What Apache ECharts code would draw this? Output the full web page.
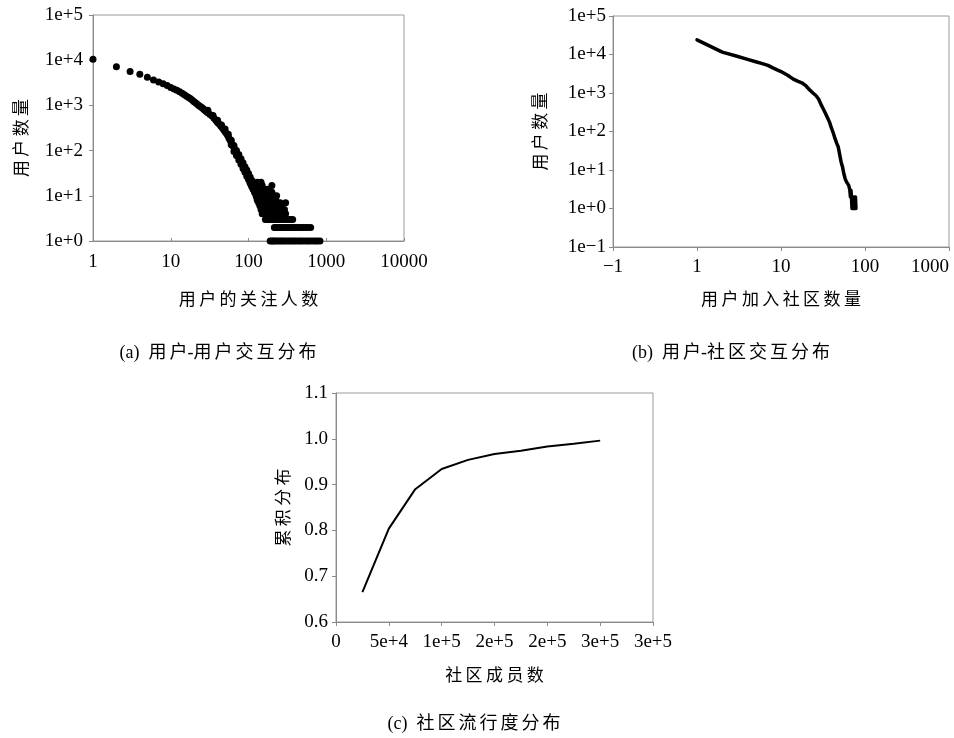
<!DOCTYPE html>
<html>
<head>
<meta charset="utf-8">
<script src="https://cdn.jsdelivr.net/npm/echarts@6/dist/echarts.min.js"></script>
<style>
  html, body { margin: 0; padding: 0; background: #fff; }
  #chart { width: 954px; height: 738px; }
</style>
</head>
<body>
<div id="chart"></div>
<script>
// (a) user-user: number of users by followee count (log-log scatter)
const followX = [1,2,3,4,5,6,7,8,9,10,11,12,13,14,15,16,17,18,19,20,21,22,23,24,25,26,27,28,29,30,
  32,34,36,38,40,42,44,46,48,50,52,54,56,58,60,62,64,66,68,70,75,80,85,90,95,100,105,110,115,120,125,130,135,140,150];
const followY = [10500,7200,5600,4900,4200,3650,3300,3000,2750,2500,2320,2150,2000,1850,1720,1600,1500,1400,1300,1200,1130,1060,1000,950,900,850,800,760,720,690,
  630,580,520,470,420,390,350,320,290,260,240,215,190,170,150,135,122,110,100,90,72,58,47,38,32,27,23,20,17,15,13,12,11,10,8];
// scattered points around the band
const spreadX = [30,35,40,45,50,55,60,60,65,65,70,70,75,75,80,80,85,85,90,90,95,95,100,100,105,105,110,110,115,115,120,120,125,125,130,130,135,135,140,140,145,145,150,150,155,160,160];
const spreadY = [780,600,470,370,300,230,170,135,130,95,100,78,82,62,66,50,54,40,44,33,37,27,31,23,26,19,22,16,19,14,17,12,15,11,13,9,12,8,11,7,9,6,10,6,5,6,8];
// tail: user counts and the followee counts at which they occur
const tailCounts = [20,17,14,12,10,9,8,7,6,5,4,3,2,1];
const tailFollow = [
  [105,115,130,145],
  [110,120,135,150,200],
  [115,125,140,155,175],
  [120,130,145,160,180,200],
  [125,135,150,165,185,210,230],
  [128,140,155,175,195,215],
  [130,145,160,180,200,225],
  [135,150,165,185,205,230,255,300],
  [140,155,170,190,210,235,260],
  [145,160,175,195,215,240,265,290],
  [150,165,180,200,220,245,270,300],
  [165,175,185,195,205,215,230,245,260,280,300,320,345,370],
  [215,225,235,250,265,280,300,320,340,360,385,410,440,470,500,540,580,630],
  [190,200,210,220,235,250,265,280,300,320,340,360,385,410,440,470,500,540,580,620,670,720,770,830]
];

// (b) user-community: number of users by communities joined
const joinX = [1,2,3,4,5,6,7,8,9,10,12,14,16,18,20,22,24,26,28,30,32,34,36,38,40,42,44,46,48,50,52,54,56,58,60,62,64,66,
  67,68,69,70,71,72,73,74,75,76,77,78];
const joinY = [24000,11500,9000,7500,6500,5800,5200,4500,4000,3600,2900,2300,2000,1800,1500,1200,1000,860,700,500,380,290,220,170,120,90,65,50,40,25,16,12,8,6,5,4.5,4,3,
  2,3,2,1,2,1,2,1,2,1,2,1];

// (c) community popularity: cumulative distribution by member count
const sizeX = [25000,50000,75000,100000,125000,150000,175000,200000,225000,250000];
const cdfY = [0.665,0.804,0.890,0.934,0.954,0.967,0.974,0.983,0.989,0.996];

// text
const yNameUsers = '用户数量';
const xNameA = '用户的关注人数';
const xNameB = '用户加入社区数量';
const xNameC = '社区成员数';
const yNameC = '累积分布';
const captions = [
  ['(a)', '用户-用户交互分布'],
  ['(b)', '用户-社区交互分布'],
  ['(c)', '社区流行度分布']
];

const FONT = '"Liberation Serif", "Times New Roman", "Noto Sans CJK SC", serif';
// widen CJK runs the way the typeset figure does
const spaced = (s, gap) => s.split('').join(gap);
const caption = ([tag, body]) => tag + '\u2002' +
  body.split('-').map(part => spaced(part, '\u2006')).join('-');

const scatterA = [];
followX.forEach((x, i) => scatterA.push([x, followY[i]]));
spreadX.forEach((x, i) => scatterA.push([x, spreadY[i]]));
tailCounts.forEach((c, i) => tailFollow[i].forEach(x => scatterA.push([x, c])));

const expOf = v => Math.round(Math.log10(v));
const sciLabel = v => { const e = expOf(v); return e < 0 ? '1e\u2212' + (-e) : '1e+' + e; };
const plainLog = v => { const e = expOf(v); return e < 0 ? '\u2212' + (-e) : String(Math.round(Math.pow(10, e))); };
const excelSci = v => {
  if (v === 0) return '0';
  let e = Math.floor(Math.log10(v) + 1e-9);
  let m = Math.round(v / Math.pow(10, e));
  if (m === 10) { m = 1; e += 1; }
  return m + 'e+' + e;
};

const axisLine = { lineStyle: { color: '#8a8a8a', width: 1 } };
const tickOut = { length: 4, lineStyle: { color: '#8a8a8a' } };
const labelStyle = { color: '#000', fontFamily: FONT, fontSize: 19 };
const nameStyle = { color: '#000', fontFamily: FONT, fontSize: 17 };
const gridBase = { show: true, borderColor: '#9a9a9a', borderWidth: 1, containLabel: false, outerBoundsMode: 'none' };

const option = {
  animation: false,
  backgroundColor: '#fff',
  grid: [
    Object.assign({ left: 93, top: 15, width: 311, height: 226 }, gridBase),
    Object.assign({ left: 613, top: 16, width: 336, height: 231 }, gridBase),
    Object.assign({ left: 336, top: 393, width: 317, height: 229 }, gridBase)
  ],
  xAxis: [
    { gridIndex: 0, type: 'log', logBase: 10, min: 1, max: 10000,
      axisLine, axisTick: { inside: true, length: 3, lineStyle: { color: '#8a8a8a' } },
      axisLabel: Object.assign({ margin: 12, formatter: plainLog }, labelStyle),
      splitLine: { show: false },
      name: spaced(xNameA, '\u2009'), nameLocation: 'middle', nameGap: 51, nameTextStyle: nameStyle },
    { gridIndex: 1, type: 'log', logBase: 10, min: 0.1, max: 1000,
      axisLine, axisTick: tickOut,
      axisLabel: Object.assign({ margin: 11, formatter: plainLog, alignMaxLabel: 'right' }, labelStyle),
      splitLine: { show: false },
      name: spaced(xNameB, '\u2009'), nameLocation: 'middle', nameGap: 45, nameTextStyle: nameStyle },
    { gridIndex: 2, type: 'value', min: 0, max: 300000, interval: 50000,
      axisLine, axisTick: tickOut,
      axisLabel: Object.assign({ margin: 11, formatter: excelSci }, labelStyle),
      splitLine: { show: false },
      name: spaced(xNameC, '\u2009'), nameLocation: 'middle', nameGap: 46, nameTextStyle: nameStyle }
  ],
  yAxis: [
    { gridIndex: 0, type: 'log', logBase: 10, min: 1, max: 100000,
      axisLine, axisTick: tickOut,
      axisLabel: Object.assign({ margin: 10, formatter: sciLabel }, labelStyle),
      splitLine: { show: false },
      name: spaced(yNameUsers, '\u2009'), nameLocation: 'middle', nameGap: 62,
      nameTextStyle: Object.assign({ padding: [0, 20, 0, 0] }, nameStyle) },
    { gridIndex: 1, type: 'log', logBase: 10, min: 0.1, max: 100000,
      axisLine, axisTick: tickOut,
      axisLabel: Object.assign({ margin: 7, formatter: sciLabel }, labelStyle),
      splitLine: { show: false },
      name: spaced(yNameUsers, '\u2009'), nameLocation: 'middle', nameGap: 63, nameTextStyle: nameStyle },
    { gridIndex: 2, type: 'value', min: 0.6, max: 1.1, interval: 0.1,
      axisLine, axisTick: tickOut,
      axisLabel: Object.assign({ margin: 8, formatter: v => v.toFixed(1) }, labelStyle),
      splitLine: { show: false },
      name: spaced(yNameC, '\u2009'), nameLocation: 'middle', nameGap: 43, nameTextStyle: nameStyle }
  ],
  series: [
    { type: 'scatter', xAxisIndex: 0, yAxisIndex: 0, data: scatterA,
      symbol: 'circle', symbolSize: 7, itemStyle: { color: '#000', opacity: 1 }, clip: false },
    { type: 'line', xAxisIndex: 1, yAxisIndex: 1, data: joinX.map((x, i) => [x, joinY[i]]),
      showSymbol: false, lineStyle: { color: '#000', width: 3.5, join: 'round', cap: 'round' } },
    { type: 'line', xAxisIndex: 2, yAxisIndex: 2, data: sizeX.map((x, i) => [x, cdfY[i]]),
      showSymbol: false, lineStyle: { color: '#000', width: 2 } }
  ],
  graphic: [
    { type: 'text', x: 218, y: 353, style: { text: caption(captions[0]), font: '18px ' + FONT, fill: '#000', align: 'center', verticalAlign: 'middle' } },
    { type: 'text', x: 731, y: 353, style: { text: caption(captions[1]), font: '18px ' + FONT, fill: '#000', align: 'center', verticalAlign: 'middle' } },
    { type: 'text', x: 474, y: 724, style: { text: caption(captions[2]), font: '18px ' + FONT, fill: '#000', align: 'center', verticalAlign: 'middle' } }
  ]
};

const chart = echarts.init(document.getElementById('chart'), null, { renderer: 'canvas' });
chart.setOption(option);
</script>
</body>
</html>
